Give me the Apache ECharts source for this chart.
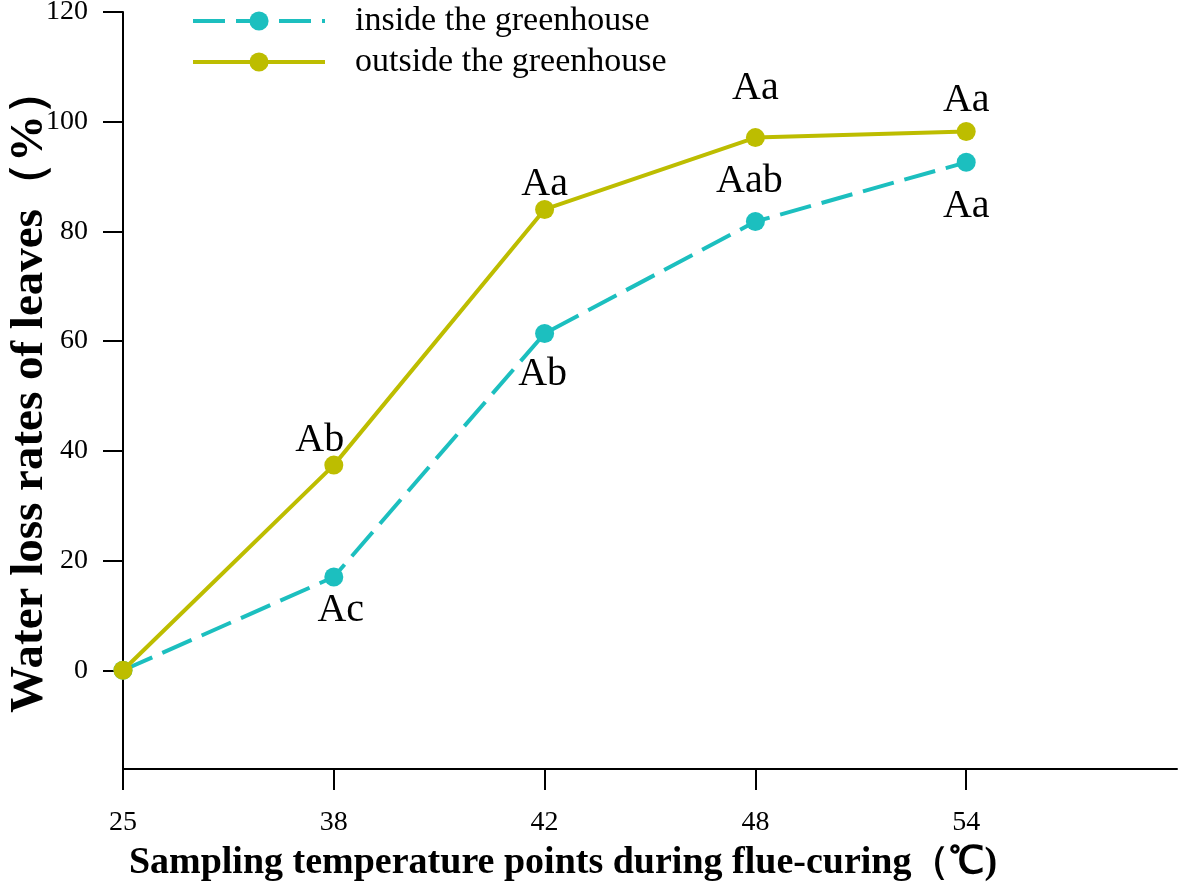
<!DOCTYPE html>
<html>
<head>
<meta charset="utf-8">
<script src="https://cdn.jsdelivr.net/npm/echarts@6/dist/echarts.min.js"></script>
<style>html,body{margin:0;padding:0;background:#fff}#c{width:1181px;height:895px}</style>
</head>
<body>
<div id="c"></div>
<script>
var categories = ['25', '38', '42', '48', '54'];
var insideValues = [0, 17.0, 61.4, 81.8, 92.6];
var outsideValues = [0, 37.4, 84.0, 97.1, 98.2];
var insideLabels = ['', 'Ac', 'Ab', 'Aab', 'Aa'];
var outsideLabels = ['', 'Ab', 'Aa', 'Aa', 'Aa'];
var yTicks = [0, 20, 40, 60, 80, 100, 120];
var xTicks = [0, 1, 2, 3, 4];

var insideOffsets = [[0,0],[7,33],[-2,41],[-6,-40],[0,44]];
var outsideOffsets = [[0,0],[-14,-25],[0,-25],[0,-49],[0,-31]];

var FONT = 'Liberation Serif';
var cTeal = '#1cbfbf', cOlive = '#bdbd00';
var DASH = [32, 11];

function build(vals, labels, offs){
  return vals.map(function(v,i){
    return {
      value:[i, v],
      label:{show: !!labels[i], formatter: labels[i], position:'inside', offset: offs[i],
        color:'#000', fontFamily: FONT, fontSize: 40}
    };
  });
}

var chart = echarts.init(document.getElementById('c'));
chart.setOption({
  animation:false,
  backgroundColor:'#fff',
  grid:{left:123, right:4, top:12, bottom:126, containLabel:false, outerBoundsMode:'none'},
  legend:{
    orient:'vertical', left:191, top:4, padding:0, itemWidth:132, itemHeight:24, itemGap:7,
    textStyle:{fontFamily:FONT, fontSize:34, color:'#000', padding:[0,0,0,25]},
    data:[
      {name:'inside the greenhouse', lineStyle:{width:4, type:DASH, color:cTeal}},
      {name:'outside the greenhouse', lineStyle:{width:4, color:cOlive}}
    ]
  },
  xAxis:{
    type:'value', min:0, max:5,
    axisLine:{show:true, onZero:false, lineStyle:{color:'#000', width:2}},
    axisTick:{show:true, customValues:xTicks, length:21, lineStyle:{color:'#000', width:2}},
    axisLabel:{customValues:xTicks, formatter:function(v){return categories[v]||'';},
      color:'#000', fontFamily:FONT, fontSize:28, margin:40},
    splitLine:{show:false},
    name:'Sampling temperature points during flue-curing（℃)',
    nameLocation:'middle', nameGap:75, nameMoveOverlap:false,
    nameTextStyle:{fontFamily:FONT, fontWeight:'bold', fontSize:38, color:'#000', padding:[0,174,0,0]}
  },
  yAxis:{
    type:'value', min:-18, max:120,
    axisLine:{show:true, onZero:false, lineStyle:{color:'#000', width:2}},
    axisTick:{show:true, customValues:yTicks, length:20, lineStyle:{color:'#000', width:2}},
    axisLabel:{customValues:yTicks, color:'#000', fontFamily:FONT, fontSize:28, margin:35},
    splitLine:{show:false},
    name:'Water loss rates of leaves（%）',
    nameLocation:'middle', nameRotate:90, nameGap:70, nameMoveOverlap:false,
    nameTextStyle:{fontFamily:FONT, fontWeight:'bold', fontSize:47, color:'#000'}
  },
  series:[
    {
      name:'inside the greenhouse', type:'line', data:build(insideValues, insideLabels, insideOffsets),
      symbol:'circle', symbolSize:19, color:cTeal,
      lineStyle:{color:cTeal, width:4, type:DASH},
      itemStyle:{color:cTeal}, z:2
    },
    {
      name:'outside the greenhouse', type:'line', data:build(outsideValues, outsideLabels, outsideOffsets),
      symbol:'circle', symbolSize:19, color:cOlive,
      lineStyle:{color:cOlive, width:4},
      itemStyle:{color:cOlive}, z:3
    }
  ]
});
</script>
</body>
</html>
